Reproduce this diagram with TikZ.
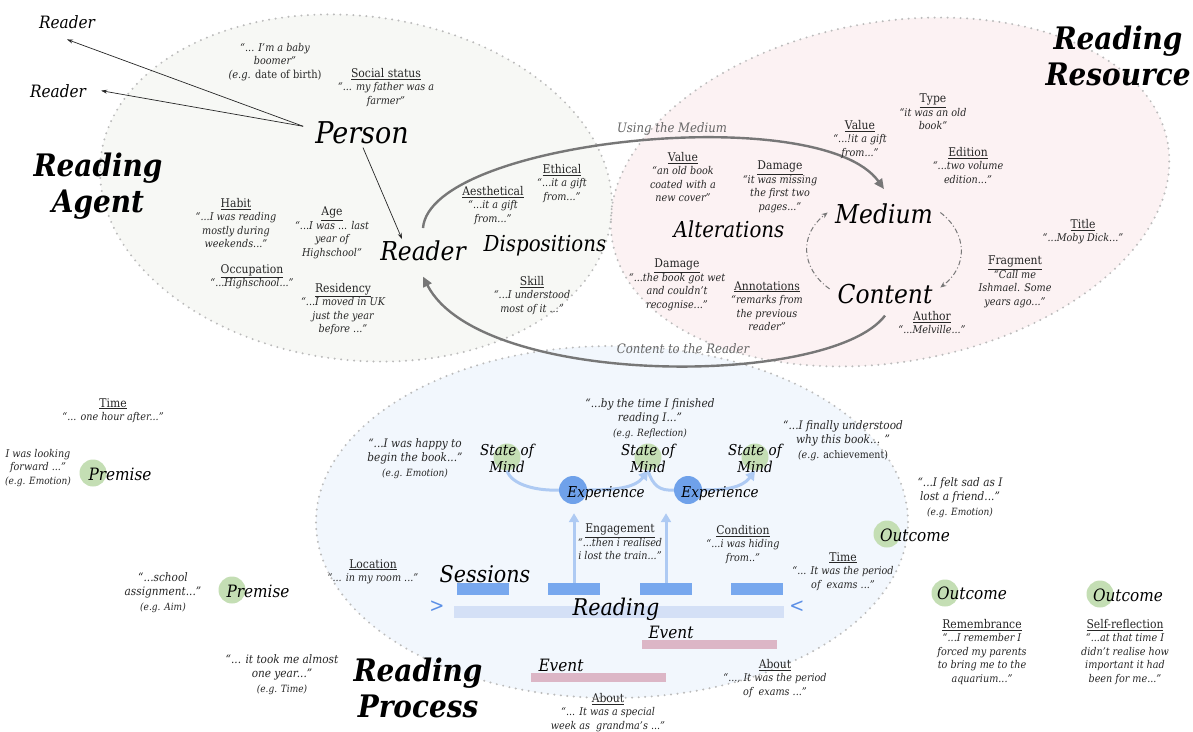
\documentclass[tikz,border=0pt]{standalone}
\usepackage{fontspec}
\setmainfont{DejaVu Serif}[FakeStretch=0.9]
\usetikzlibrary{arrows.meta}
\definecolor{agentfill}{HTML}{F7F8F5}
\definecolor{resfill}{HTML}{FCF2F3}
\definecolor{procfill}{HTML}{F2F7FD}
\definecolor{dotc}{HTML}{BBBBBB}
\definecolor{arcc}{HTML}{777777}
\definecolor{smgreen}{HTML}{C4DEB4}
\definecolor{expblue}{HTML}{6FA1EA}
\definecolor{lblue}{HTML}{AECAF3}
\definecolor{sessblue}{HTML}{78A8EE}
\definecolor{readbar}{HTML}{D4E0F6}
\definecolor{eventpink}{HTML}{DCB6C6}
\definecolor{chev}{HTML}{5B8FE6}
\definecolor{txt}{HTML}{262626}
\definecolor{graytxt}{HTML}{666666}
\newcommand\hdl[1]{{\fontsize{12}{13.5}\selectfont\upshape\underline{#1}}}
\newcommand\egl[1]{{\fontsize{10}{13.5}\selectfont\itshape #1}}
\begin{document}
\begin{tikzpicture}[x=1pt,y=-1pt,
  lab/.style={align=center, inner sep=0pt, anchor=north, text=txt, font=\fontsize{10.7}{13.5}\selectfont\itshape},
  blab/.style={align=center, inner sep=0pt, anchor=north, text=txt, font=\fontsize{11.7}{14.5}\selectfont\itshape},
  big/.style={inner sep=0pt, anchor=base, font=\fontsize{26}{30}\selectfont\itshape},
  mid/.style={inner sep=0pt, anchor=base, font=\fontsize{22}{26}\selectfont\itshape},
  small/.style={inner sep=0pt, anchor=base, font=\fontsize{17}{20}\selectfont\itshape},
  title/.style={inner sep=0pt, anchor=north, align=center, font=\fontsize{31}{36}\selectfont\bfseries\itshape},
  dotborder/.style={draw=dotc, line width=2.2pt, dash pattern=on 0pt off 6.5pt, line cap=round},
  grayarc/.style={draw=arcc, line width=2.4pt, -{Triangle[length=10pt,width=9pt]}},
  thinarrow/.style={draw=black!85, line width=0.7pt, -{Stealth[length=6pt,width=4pt]}},
  flow/.style={draw=lblue, line width=3pt},
  flowarrow/.style={draw=lblue, line width=3pt, -{Triangle[length=9pt,width=10pt]}},
  smc/.style={circle, fill=smgreen, minimum size=27pt, inner sep=0pt},
  expc/.style={circle, fill=expblue, minimum size=28pt, inner sep=0pt},
  dashdot/.style={draw=arcc, line width=1pt, dash pattern=on 5pt off 2.5pt on 1pt off 2.5pt, -{Stealth[length=6pt,width=5pt]}},
  grlab/.style={inner sep=0pt, anchor=base, text=graytxt, font=\fontsize{13}{15}\selectfont\itshape},
  bar/.style={inner sep=0pt, minimum height=12pt}
]
\useasboundingbox (0,0) rectangle (1193,731);
\fill[white] (0,0) rectangle (1193,731);

% ---------- ellipses ----------
\fill[agentfill, rotate around={-7:(356,188)}] (356,188) ellipse [x radius=257pt, y radius=172pt];
\fill[resfill, rotate around={10:(890,192)}] (890,192) ellipse [x radius=282pt, y radius=170pt];
\fill[procfill] (612,522) ellipse [x radius=296pt, y radius=176pt];
\path[dotborder, rotate around={-7:(356,188)}] (356,188) ellipse [x radius=257pt, y radius=172pt];
\path[dotborder, rotate around={10:(890,192)}] (890,192) ellipse [x radius=282pt, y radius=170pt];
\path[dotborder] (612,522) ellipse [x radius=296pt, y radius=176pt];

% ---------- titles ----------
\node[title] (tagent) at (98,153) {Reading\\Agent};
\node[title] (tres) at (1118,26) {Reading\\Resource};
\node[title] (tproc) at (418,658) {Reading\\Process};

% ---------- main concept labels ----------
\node[big, font=\fontsize{30}{34}\selectfont\itshape] (person) at (362,143) {Person};
\node[big] (rdrc) at (423,260) {Reader};
\node[mid] (disp) at (545,251) {Dispositions};
\node[mid] (alter) at (729,237) {Alterations};
\node[big] (medium) at (884,223) {Medium};
\node[big] (content) at (885,303) {Content};
\node[small] (rdr1) at (67,28) {Reader};
\node[small] (rdr2) at (58,97) {Reader};

\draw[thinarrow] ([xshift=-12pt,yshift=6pt]person.west) -- ([yshift=-11pt]rdr1.south);
\draw[thinarrow] ([xshift=-12pt,yshift=6pt]person.west) -- ([xshift=15pt]rdr2.east);
\draw[thinarrow] ([xshift=1pt,yshift=-4pt]person.south) -- ([xshift=-21pt,yshift=1pt]rdrc.north);

% ---------- gray arcs ----------
\draw[grayarc] ([yshift=12pt]rdrc.north) .. controls (430,140) and (820,100) .. ([yshift=14pt]medium.north);
\draw[grayarc] ([yshift=-12pt]content.south) .. controls (830,388) and (480,388) .. ([yshift=-16pt]rdrc.south);
\node[grlab] (usemed) at (672,132) {Using the Medium};
\node[grlab] (ctr) at (683,353) {Content to the Reader};

\coordinate (mc) at (884,250);
\draw[dashdot] ([shift={(225:77pt and 55pt)}]mc) arc[start angle=225, end angle=137, x radius=77pt, y radius=55pt];
\draw[dashdot] ([shift={(43:77pt and 55pt)}]mc) arc[start angle=43, end angle=-43, x radius=77pt, y radius=55pt];

% ---------- agent labels ----------
\node[lab] (boomer) at (275,43) {“... I'm a baby\\boomer”\\{\fontsize{11}{13.5}\selectfont (e.g. \upshape date of birth)}};
\node[lab] (social) at (386,68) {\hdl{Social status}\\“... my father was a\\farmer”};
\node[lab] (habit) at (236,198) {\hdl{Habit}\\“...I was reading\\mostly during\\weekends...”};
\node[lab] (age) at (332,207) {\hdl{Age}\\“...I was ... last\\year of\\Highschool”};
\node[lab] (occup) at (252,264) {\hdl{Occupation}\\“...Highschool...”};
\node[lab] (resid) at (343,283) {\hdl{Residency}\\“...I moved in UK\\just the year\\before ...”};
\node[lab] (aesth) at (493,186) {\hdl{Aesthetical}\\“...it a gift\\from...”};
\node[lab] (ethic) at (562,164) {\hdl{Ethical}\\“...it a gift\\from...”};
\node[lab] (skill) at (532,276) {\hdl{Skill}\\“...I understood\\most of it ...”};

% ---------- resource labels ----------
\node[lab] (value1) at (683,152) {\hdl{Value}\\“an old book\\coated with a\\new cover”};
\node[lab] (damage1) at (780,161) {\hdl{Damage}\\“it was missing\\the first two\\pages...”};
\node[lab] (value2) at (860,120) {\hdl{Value}\\“...!it a gift\\from...”};
\node[lab] (type) at (933,94) {\hdl{Type}\\“it was an old\\book”};
\node[lab] (edition) at (968,147) {\hdl{Edition}\\“...two volume\\edition...”};
\node[lab] (title) at (1083,219) {\hdl{Title}\\“...Moby Dick...”};
\node[lab] (fragment) at (1015,256) {\hdl{Fragment}\\“Call me\\Ishmael. Some\\years ago...”};
\node[lab] (damage2) at (677,259) {\hdl{Damage}\\“...the book got wet\\and couldn't\\recognise...”};
\node[lab] (annot) at (767,281) {\hdl{Annotations}\\“remarks from\\the previous\\reader”};
\node[lab] (author) at (932,311) {\hdl{Author}\\“...Melville...”};

% ---------- process: bars ----------
\node[bar, fill=readbar, minimum width=330pt] (rbar) at (619,612) {};
\node[bar, fill=sessblue, minimum width=52pt] (sess1) at (483,589) {};
\node[bar, fill=sessblue, minimum width=52pt] (sess2) at (574,589) {};
\node[bar, fill=sessblue, minimum width=52pt] (sess3) at (666,589) {};
\node[bar, fill=sessblue, minimum width=52pt] (sess4) at (757,589) {};
\node[bar, fill=eventpink, minimum width=135pt, minimum height=9pt] (evbar1) at (709.5,644.5) {};
\node[bar, fill=eventpink, minimum width=135pt, minimum height=9pt] (evbar2) at (598.5,677.5) {};
\node[mid, font=\fontsize{23}{26}\selectfont\itshape] (sessions) at (485,582) {Sessions};
\node[mid, font=\fontsize{23}{26}\selectfont\itshape] (reading) at (616,615) {Reading};
\node[inner sep=0pt, text=chev, font=\fontsize{20}{22}\selectfont] (chl) at (437,607) {>};
\node[inner sep=0pt, text=chev, font=\fontsize{20}{22}\selectfont] (chr) at (797,607) {<};
\node[small] (ev1) at (671,638) {Event};
\node[small] (ev2) at (561,671) {Event};

% ---------- process: states and experiences ----------
\node[smc] (sm1c) at (507,457) {};
\node[smc] (sm2c) at (648,457) {};
\node[smc] (sm3c) at (755,457) {};
\node[expc] (ex1c) at (573,490) {};
\node[expc] (ex2c) at (688,490) {};
\draw[flow] (sm1c.south) .. controls (512,486) and (540,491) .. (ex1c.west);
\draw[flowarrow] (ex1c.east) .. controls (615,490) and (635,488) .. (sm2c.south);
\draw[flow] (sm2c.south) .. controls (653,486) and (660,491) .. (ex2c.west);
\draw[flowarrow] (ex2c.east) .. controls (725,490) and (742,488) .. (sm3c.south);
\draw[flowarrow, shorten >=9pt] (sess2.north) -- (sess2.north |- ex1c.south);
\draw[flowarrow, shorten >=9pt] (sess3.north) -- (sess3.north |- ex2c.south);
\node[inner sep=0pt, anchor=north, align=center, font=\fontsize{15}{17}\selectfont\itshape] (sm1) at (507,444) {State of\\Mind};
\node[inner sep=0pt, anchor=north, align=center, font=\fontsize{15}{17}\selectfont\itshape] (sm2) at (648,444) {State of\\Mind};
\node[inner sep=0pt, anchor=north, align=center, font=\fontsize{15}{17}\selectfont\itshape] (sm3) at (755,444) {State of\\Mind};
\node[inner sep=0pt, anchor=base, font=\fontsize{15}{17}\selectfont\itshape] (ex1) at (606,497) {Experience};
\node[inner sep=0pt, anchor=base, font=\fontsize{15}{17}\selectfont\itshape] (ex2) at (720,497) {Experience};

% ---------- premises and outcomes ----------
\node[smc] (pr1c) at (93,473) {};
\node[smc] (pr2c) at (232,590) {};
\node[smc] (oc1c) at (887,534) {};
\node[smc] (oc2c) at (945,593) {};
\node[smc] (oc3c) at (1100,594) {};
\node[small] (pr1) at (120,480) {Premise};
\node[small] (pr2) at (258,597) {Premise};
\node[small] (oc1) at (915,541) {Outcome};
\node[small] (oc2) at (972,599) {Outcome};
\node[small] (oc3) at (1128,601) {Outcome};

% ---------- process labels ----------
\node[lab] (time1) at (113,398) {\hdl{Time}\\“... one hour after...”};
\node[lab] (lookfwd) at (38,449) {I was looking\\forward ...”\\\egl{(e.g. Emotion)}};
\node[blab] (school) at (163,572) {“...school\\assignment...”\\\egl{(e.g. Aim)}};
\node[blab] (tookme) at (282,654) {“... it took me almost\\one year...”\\\egl{(e.g. Time)}};
\node[lab] (location) at (373,559) {\hdl{Location}\\“... in my room ...”};
\node[blab] (happy) at (415,438) {“...I was happy to\\begin the book...”\\\egl{(e.g. Emotion)}};
\node[blab] (finished) at (650,398) {“...by the time I finished\\reading I...”\\\egl{(e.g. Reflection)}};
\node[blab] (finally) at (843,420) {“...I finally understood\\why this book... ”\\{\fontsize{10.5}{13.5}\selectfont (e.g. \upshape achievement)}};
\node[lab] (engage) at (620,524) {\hdl{Engagement}\\“...then i realised\\i lost the train...”};
\node[lab] (cond) at (743,525) {\hdl{Condition}\\“...i was hiding\\from..”};
\node[lab] (time2) at (843,552) {\hdl{Time}\\“... It was the period\\of~ exams ...”};
\node[lab] (about1) at (775,659) {\hdl{About}\\“..., It was the period\\of~ exams ...”};
\node[lab] (about2) at (608,693) {\hdl{About}\\“... It was a special\\week as~ grandma's ...”};
\node[blab] (sad) at (960,477) {“...I felt sad as I\\lost a friend...”\\\egl{(e.g. Emotion)}};
\node[lab] (remem) at (982,619) {\hdl{Remembrance}\\“...I remember I\\forced my parents\\to bring me to the\\aquarium...”};
\node[lab] (selfref) at (1125,619) {\hdl{Self-reflection}\\“...at that time I\\didn't realise how\\important it had\\been for me...”};
\end{tikzpicture}
\end{document}
